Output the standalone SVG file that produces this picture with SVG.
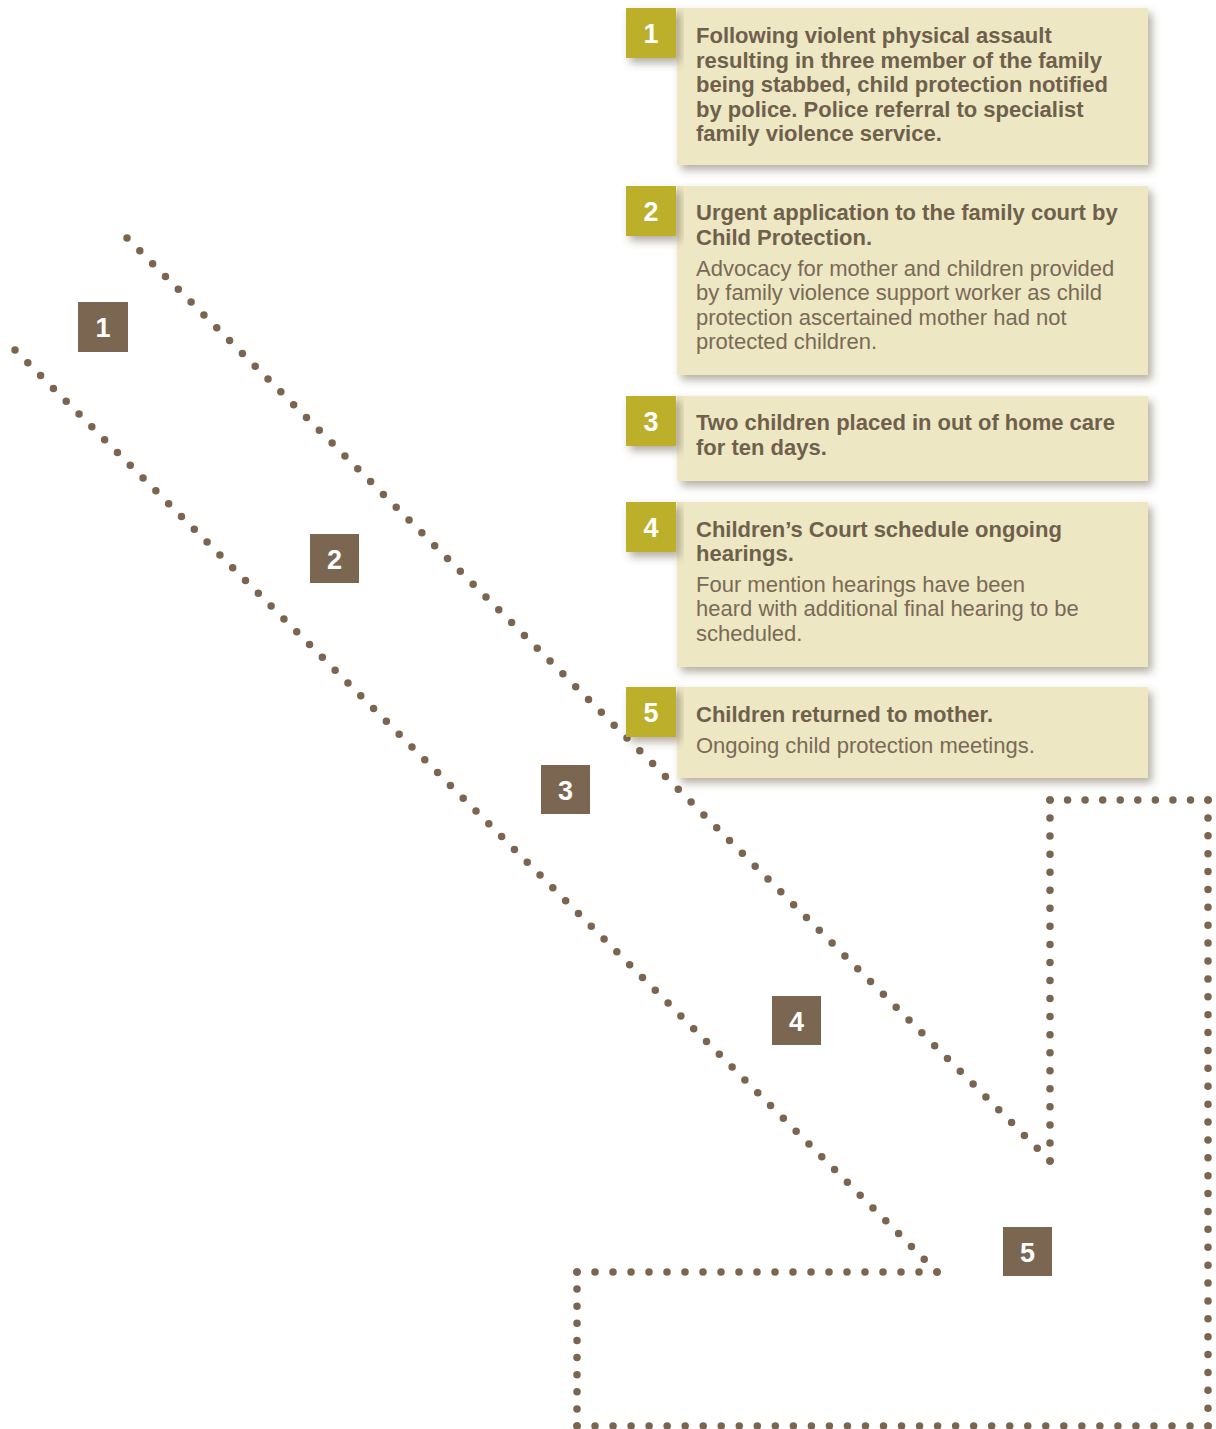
<svg xmlns="http://www.w3.org/2000/svg" width="1216" height="1429" viewBox="0 0 1216 1429">
  <style>
    .dots { fill: none; stroke: #7a6650; stroke-width: 7.5; stroke-linecap: round; }
    .card { fill: #ede7c4; }
    .badge { fill: #bcaf2c; }
    .step { fill: #7b6751; }
    .num { font-family: "Liberation Sans", Arial, sans-serif; font-weight: bold; font-size: 27px; fill: #ffffff; text-anchor: middle; }
    .hd { font-family: "Liberation Sans", Arial, sans-serif; font-weight: bold; font-size: 22px; fill: #6f604b; }
    .bd { font-family: "Liberation Sans", Arial, sans-serif; font-size: 22px; fill: #7a6a55; }
  </style>
  <defs>
    <filter id="shadow" x="-10%" y="-10%" width="125%" height="135%">
      <feDropShadow dx="4" dy="5" stdDeviation="4" flood-color="#5b4c35" flood-opacity="0.45"/>
    </filter>
  </defs>
  <rect width="1216" height="1429" fill="#ffffff"/>

  <!-- dotted outline of the arrow path; each run is spaced so a dot sits on both ends -->
  <g id="connectors">
    <line class="dots" x1="15" y1="350" x2="937.4" y2="1272.4" stroke-dasharray="0 18.11"/>
    <line class="dots" x1="577" y1="1272" x2="937.5" y2="1272" stroke-dasharray="0 18"/>
    <line class="dots" x1="577" y1="1272" x2="577" y2="1426.5" stroke-dasharray="0 17.11"/>
    <line class="dots" x1="577" y1="1426" x2="1208.5" y2="1426" stroke-dasharray="0 18.03"/>
    <line class="dots" x1="1208" y1="800" x2="1208" y2="1426.5" stroke-dasharray="0 17.89"/>
    <line class="dots" x1="1050" y1="800" x2="1208.5" y2="800" stroke-dasharray="0 17.56"/>
    <line class="dots" x1="1050" y1="800" x2="1050" y2="1161.5" stroke-dasharray="0 18.05"/>
    <line class="dots" x1="127" y1="238" x2="1050.4" y2="1161.4" stroke-dasharray="0 18.13"/>
  </g>

  <!-- numbered steps along the arrow -->
  <g id="step1"><rect class="step" x="78" y="302" width="50" height="50"/><text class="num" x="103" y="337">1</text></g>
  <g id="step2"><rect class="step" x="310" y="534" width="49" height="49"/><text class="num" x="334.5" y="569">2</text></g>
  <g id="step3"><rect class="step" x="541" y="765" width="49" height="49"/><text class="num" x="565.5" y="800">3</text></g>
  <g id="step4"><rect class="step" x="772" y="996" width="49" height="49"/><text class="num" x="796.5" y="1031">4</text></g>
  <g id="step5"><rect class="step" x="1003" y="1227" width="49" height="49"/><text class="num" x="1027.5" y="1262">5</text></g>

  <!-- description cards -->
  <g id="card1">
    <rect class="card" x="677" y="8" width="471" height="157" filter="url(#shadow)"/>
    <rect class="badge" x="626" y="8" width="50" height="50" filter="url(#shadow)"/>
    <text class="num" x="651" y="43">1</text>
    <text class="hd" x="696" y="43">Following violent physical assault</text>
    <text class="hd" x="696" y="67.5">resulting in three member of the family</text>
    <text class="hd" x="696" y="92">being stabbed, child protection notified</text>
    <text class="hd" x="696" y="116.5">by police. Police referral to specialist</text>
    <text class="hd" x="696" y="141">family violence service.</text>
  </g>
  <g id="card2">
    <rect class="card" x="677" y="186" width="471" height="189" filter="url(#shadow)"/>
    <rect class="badge" x="626" y="186" width="50" height="50" filter="url(#shadow)"/>
    <text class="num" x="651" y="221">2</text>
    <text class="hd" x="696" y="220">Urgent application to the family court by</text>
    <text class="hd" x="696" y="245">Child Protection.</text>
    <text class="bd" x="696" y="276">Advocacy for mother and children provided</text>
    <text class="bd" x="696" y="300">by family violence support worker as child</text>
    <text class="bd" x="696" y="325">protection ascertained mother had not</text>
    <text class="bd" x="696" y="349">protected children.</text>
  </g>
  <g id="card3">
    <rect class="card" x="677" y="396" width="471" height="85" filter="url(#shadow)"/>
    <rect class="badge" x="626" y="396" width="50" height="50" filter="url(#shadow)"/>
    <text class="num" x="651" y="431">3</text>
    <text class="hd" x="696" y="430">Two children placed in out of home care</text>
    <text class="hd" x="696" y="455">for ten days.</text>
  </g>
  <g id="card4">
    <rect class="card" x="677" y="502" width="471" height="165" filter="url(#shadow)"/>
    <rect class="badge" x="626" y="502" width="50" height="50" filter="url(#shadow)"/>
    <text class="num" x="651" y="537">4</text>
    <text class="hd" x="696" y="537">Children’s Court schedule ongoing</text>
    <text class="hd" x="696" y="561">hearings.</text>
    <text class="bd" x="696" y="592">Four mention hearings have been</text>
    <text class="bd" x="696" y="616">heard with additional final hearing to be</text>
    <text class="bd" x="696" y="641">scheduled.</text>
  </g>
  <g id="card5">
    <rect class="card" x="677" y="687" width="471" height="91" filter="url(#shadow)"/>
    <rect class="badge" x="626" y="687" width="50" height="50" filter="url(#shadow)"/>
    <text class="num" x="651" y="722">5</text>
    <text class="hd" x="696" y="722">Children returned to mother.</text>
    <text class="bd" x="696" y="753">Ongoing child protection meetings.</text>
  </g>
</svg>
